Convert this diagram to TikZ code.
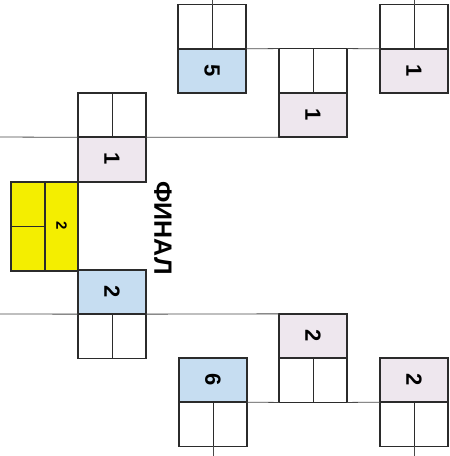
\documentclass[tikz,border=0pt]{standalone}
\usepackage{fontspec}
\setmainfont{Liberation Sans}
\usetikzlibrary{positioning}
\definecolor{seedblue}{HTML}{C6DDF1}
\definecolor{seedpink}{HTML}{EEE7EE}
\definecolor{finalyellow}{HTML}{F4EE00}
\definecolor{boxline}{HTML}{2B2B2B}
\definecolor{wire}{HTML}{4A4A4A}
\newcommand\turned[1]{\rotatebox[origin=c]{-90}{#1}}
\tikzset{
  numcell/.style={draw=boxline, line width=1.8pt, minimum width=68pt, minimum height=44.3pt,
    inner sep=0pt, outer sep=0pt, font=\bfseries\fontsize{22}{22}\selectfont},
  paircell/.style={draw=boxline, line width=1.8pt, fill=white, minimum width=68pt,
    minimum height=44.3pt, inner sep=0pt, outer sep=0pt},
  split/.style={draw=boxline, line width=0.8pt},
  link/.style={draw=wire, line width=0.8pt},
}
\begin{document}
\begin{tikzpicture}[x=1pt, y=1pt]
  \useasboundingbox (0,0) rectangle (450,456);
  % upper half
  \node[numcell, fill=seedblue] (An) at (212,385) {\turned{5}};
  \node[paircell, above=0pt of An] (Ap) {};
  \node[numcell, fill=seedpink] (Bn) at (414,385) {\turned{1}};
  \node[paircell, above=0pt of Bn] (Bp) {};
  \node[numcell, fill=seedpink] (Cn) at (313,341) {\turned{1}};
  \node[paircell, above=0pt of Cn] (Cp) {};
  \node[numcell, fill=seedpink] (Dn) at (112,296.5) {\turned{1}};
  \node[paircell, above=0pt of Dn] (Dp) {};
  % lower half
  \node[numcell, fill=seedblue] (En) at (112,164) {\turned{2}};
  \node[paircell, below=0pt of En] (Ep) {};
  \node[numcell, fill=seedpink] (Fn) at (313,120) {\turned{2}};
  \node[paircell, below=0pt of Fn] (Fp) {};
  \node[numcell, fill=seedblue] (Gn) at (213,76) {\turned{6}};
  \node[paircell, below=0pt of Gn] (Gp) {};
  \node[numcell, fill=seedpink] (Hn) at (414,76) {\turned{2}};
  \node[paircell, below=0pt of Hn] (Hp) {};
  \foreach \q in {A,B,C,D,E,F,G,H}
    \draw[split] (\q p.north) -- (\q p.south);
  % final
  \node[numcell, fill=finalyellow, minimum width=33.5pt, minimum height=88.6pt,
    font=\bfseries\fontsize{15}{15}\selectfont] (Yn) at (61.5,229.5) {\turned{2}};
  \node[paircell, fill=finalyellow, minimum width=33.5pt, minimum height=88.6pt,
    left=0pt of Yn] (Yp) {};
  \draw[split] (Yp.west) -- (Yp.east);
  \node[font=\bfseries\fontsize{25}{25}\selectfont] (fin) at (163,228) {\turned{ФИНАЛ}};
  % connectors
  \coordinate (upin) at (0,319);
  \coordinate (lowin) at (0,142);
  \coordinate (Aend) at (212,456);
  \coordinate (Bend) at (414,456);
  \coordinate (Gend) at (213,0);
  \coordinate (Hend) at (414,0);
  \draw[link] (upin) -- (Dp.south west);
  \draw[link] (Dp.south east) -- (Cn.south west);
  \draw[link] (An.north east) -- (Cp.north west);
  \draw[link] (Cp.north east) -- (Bn.north west);
  \draw[link] (lowin) -- (En.south west);
  \draw[link] (En.south east) -- (Fn.north west);
  \draw[link] (Gn.south east) -- (Fp.south west);
  \draw[link] (Fp.south east) -- (Hn.south west);
  \draw[link] (Ap.north) -- (Aend);
  \draw[link] (Bp.north) -- (Bend);
  \draw[link] (Gp.south) -- (Gend);
  \draw[link] (Hp.south) -- (Hend);
\end{tikzpicture}
\end{document}
